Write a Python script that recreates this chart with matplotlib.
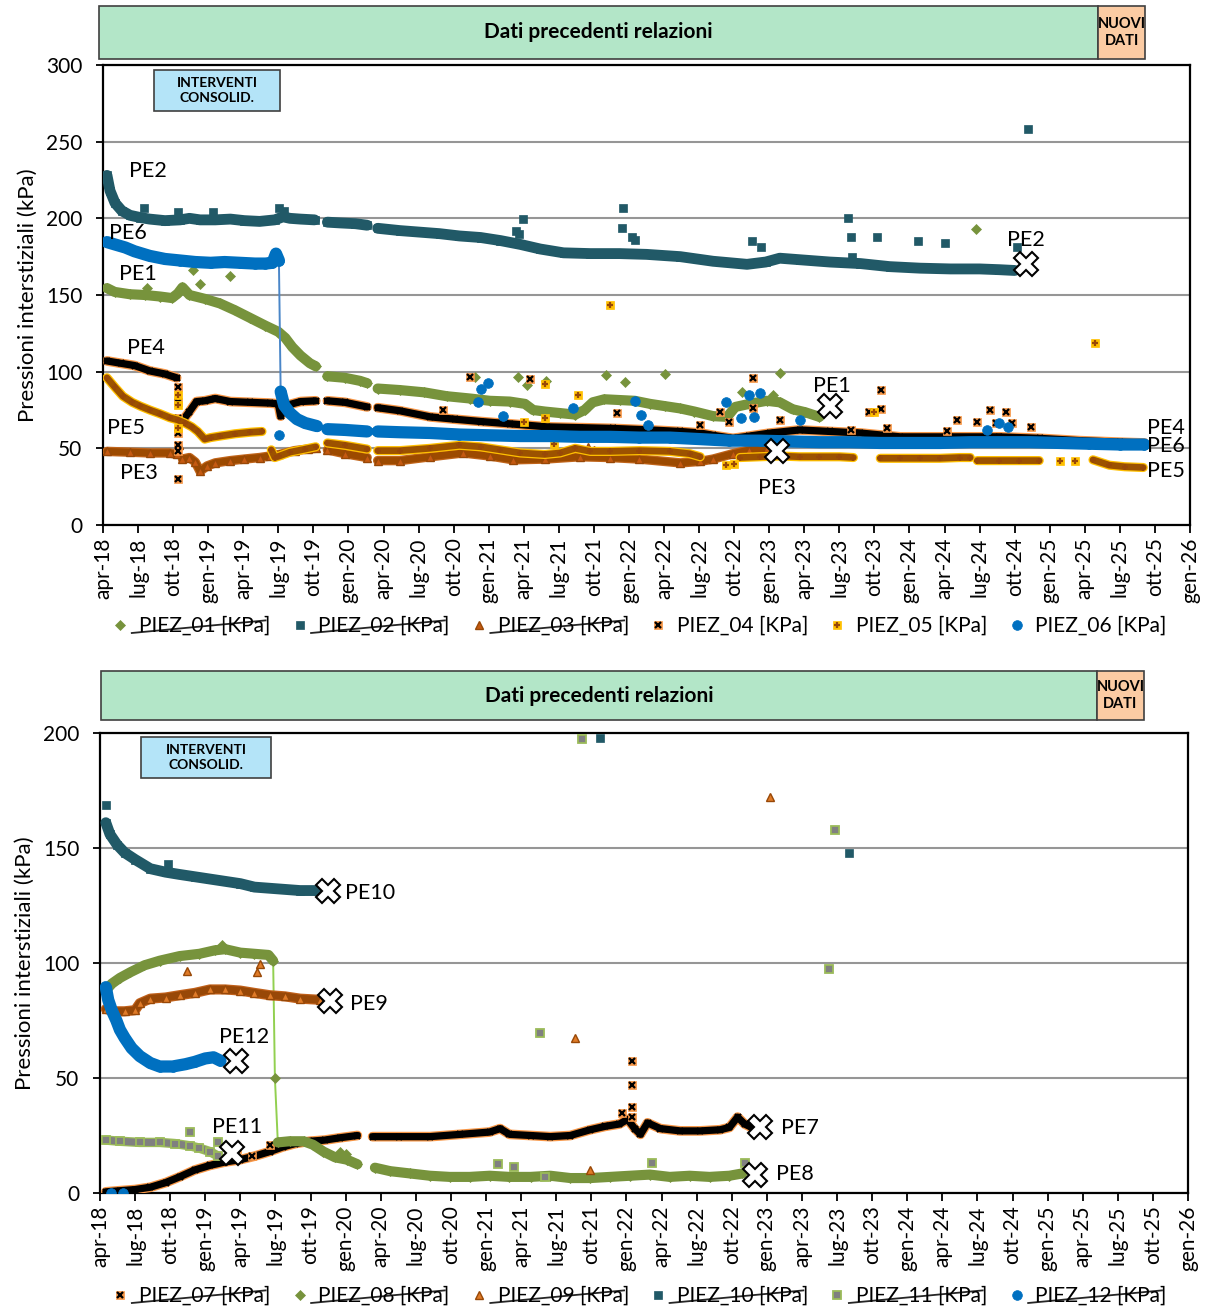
import numpy as np
import matplotlib
matplotlib.use("Agg")
import matplotlib.pyplot as plt
import matplotlib.patheffects as pe
from matplotlib.lines import Line2D
from matplotlib.patches import Rectangle

plt.rcParams['font.family'] = ['Lato', 'DejaVu Sans']

W, H = 1211, 1313

# x axis: months elapsed since 1 apr 2018, one tick every quarter
tick_labels = ['apr-18', 'lug-18', 'ott-18', 'gen-19', 'apr-19', 'lug-19', 'ott-19', 'gen-20',
               'apr-20', 'lug-20', 'ott-20', 'gen-21', 'apr-21', 'lug-21', 'ott-21', 'gen-22',
               'apr-22', 'lug-22', 'ott-22', 'gen-23', 'apr-23', 'lug-23', 'ott-23', 'gen-24',
               'apr-24', 'lug-24', 'ott-24', 'gen-25', 'apr-25', 'lug-25', 'ott-25', 'gen-26']

# ---------------- PIEZ_01 .. PIEZ_06 (None = no readings) ----------------
pe1_x = [0.34, 1.0, 2.3, 3.6, 4.9, 5.9, 6.4, 6.8, 7.4, 8.7, 10.0, 11.3, 12.6, 13.9, 15.0, 15.6, 16.2, 16.9, 17.7, 18.2,
         None, 19.2, 20.7, 22.0, 22.6,
         None, 23.5, 25.4, 27.5, 29.4, 31.4, 33.1, 34.8, 36.1, 36.8, 37.8, 39.1, 40.4, 41.2, 41.9, 42.9, 44.2, 45.5,
         46.8, 48.1, 49.4, 50.6, 52.2, 53.4, 54.1, 55.3, 56.8, 57.9, 59.0, 60.1, 61.3]
pe1_y = [154.5, 152, 150.5, 150, 149, 148, 151, 155, 150, 147.5, 144.5, 140, 135, 130, 126, 122, 116, 110.5, 105.5, 103.5,
         None, 97, 96, 94, 92.5,
         None, 89, 88, 86.5, 84, 82.5, 81, 80.5, 79, 75, 74, 73, 72, 75, 80, 82, 81.5, 81,
         79, 77.5, 76, 74, 71, 70.5, 77, 79, 81, 80, 75.5, 73.5, 70.5]
pe1_out_x = [3.8, 7.7, 10.9, 8.3, 31.8, 35.5, 36.3, 37.9, 43.0, 44.7, 48.1, 57.9, 57.3, 54.7, 74.7]
pe1_out_y = [154.5, 166, 162.5, 157, 96.5, 96.5, 91, 94, 98, 93, 98.5, 99, 85, 87, 193]

pe2_x = [0.34, 0.6, 1.03, 1.6, 2.3, 3.2, 4.0, 5.3, 6.6, 7.4, 8.3, 9.6, 10.9, 12.1, 13.4, 14.7, 15.4, 16.0, 16.9, 18.1,
         None, 19.2, 20.3, 21.6, 22.6,
         None, 23.5, 25.4, 27.1, 28.8, 30.5, 32.3, 34.0, 35.7, 37.4, 39.4, 41.7, 44.2, 46.5, 49.4, 52.2, 55.1, 56.7,
         57.9, 59.6, 62.2, 64.8, 67.3, 69.9, 72.5, 75.0, 76.7, 78.0]
pe2_y = [228, 218, 210, 205, 202, 200.5, 199.5, 198.5, 199, 200, 199, 199, 199.5, 198.5, 198, 199, 201, 200, 199.5, 199,
         None, 197.5, 197, 196.5, 195.5,
         None, 193.5, 192, 191, 190, 188.5, 187.5, 185.5, 183, 180, 177.5, 177, 177, 176.5, 175, 172, 170, 171.5,
         174, 173, 171.5, 170.5, 168.5, 167.5, 167, 167, 166.5, 166]
pe2_out_x = [3.5, 6.4, 9.4, 15.1, 15.5, 35.9, 35.3, 35.6, 44.5, 44.4, 45.3, 45.5, 55.5, 56.3, 63.7, 64.0, 64.1,
             66.2, 69.7, 72.0, 78.2, 79.1]
pe2_out_y = [207, 204, 204, 207, 205, 199.5, 192, 190, 207, 194, 188, 186, 185, 181, 200, 188, 175,
             188, 185, 184, 181, 258]

pe3_x = [0.34, 2.3, 4.0, 5.7, 6.3,
         None, 6.8, 7.4, 7.9, 8.3, 8.9, 9.6, 10.9, 12.1, 13.4, 14.3, 15.1, 16.4, 17.5, 18.2,
         None, 19.2, 20.7, 22.6,
         None, 23.5, 25.4, 28.0, 30.8, 33.1, 35.1, 37.8, 40.8, 43.4, 45.9, 49.4, 51.1, 52.2, 53.9, 55.3, 56.8]
pe3_y = [48, 47.5, 47, 47, 46,
         None, 43, 44, 41, 35, 38.5, 40.5, 42, 43, 44, 45, 46, 48.5, 49.5, 50,
         None, 49, 46.5, 44,
         None, 42, 42, 44.5, 47, 45, 42.5, 43, 44.5, 44, 43, 40.5, 41.5, 43, 46.5, 49, 50]
pe3_out_x = [6.5, 41.5, 42.0]
pe3_out_y = [52, 51, 49]

pe4_x = [0.34, 1.5, 2.7, 4.0, 5.3, 6.3,
         None, 7.0, 7.4, 8.0, 8.7, 9.6, 10.9, 12.6, 14.3, 15.0, 15.2, 15.7, 16.9, 18.2,
         None, 19.2, 20.7, 22.6,
         None, 23.5, 25.4, 28.0, 30.1, 32.3, 34.8, 38.0, 40.8, 43.6, 46.8, 49.4, 51.1, 52.2, 53.9, 55.3, 57.1,
         59.6, 62.2, 64.8, 68.2, 72.5, 76.7, 80.2, 83.6, 87.0, 89.1]
pe4_y = [107, 105.5, 104, 100.5, 98.5, 96,
         None, 70, 74, 80.5, 81, 82.5, 80.5, 80, 79.5, 79, 71, 78, 80.5, 81,
         None, 81, 80, 77,
         None, 76.5, 74.5, 70.5, 69, 67.5, 66, 64, 63.5, 63, 62, 61, 60, 58.5, 56.5, 58, 60,
         62, 61, 60, 57.5, 57.5, 57.5, 56.5, 55, 54, 53.5]
pe4_out_x = [6.4, 6.4, 6.4, 6.4, 6.4, 6.4, 6.4, 31.4, 29.1, 36.5, 44.0, 51.1, 52.8, 53.6, 55.6, 55.6, 57.9,
             64.0, 65.5, 66.6, 66.6, 67.1, 72.2, 73.1, 74.8, 75.9, 76.4, 77.3, 77.8, 79.4]
pe4_out_y = [90, 80, 70, 60, 52, 48, 30, 96.7, 75, 95, 73, 65, 73.7, 67, 96, 76, 68.5,
             62, 73.7, 88, 75.6, 63, 61, 68.5, 67, 75, 66.5, 73.7, 66.5, 64]

pe5_x = [0.34, 1.0, 1.7, 2.5, 3.2, 4.0, 4.9, 5.7, 6.4, 7.0, 7.6, 8.1, 8.7, 9.2, 10.0, 11.3, 12.6, 13.6,
         None, 14.4, 14.7, 15.1, 16.0, 17.3, 18.2,
         None, 19.2, 20.7, 22.6,
         None, 23.5, 25.4, 28.0, 30.5, 32.3, 34.0, 35.7, 37.8, 39.1, 40.4, 41.7, 43.4, 45.9, 48.5, 50.2, 51.1,
         None, 54.5, 56.2, 57.9, 59.6, 61.3, 63.0, 64.2,
         None, 66.5, 68.2, 69.9, 71.6, 73.3, 74.2,
         None, 74.8, 76.7, 78.4, 80.1,
         None, 84.7, 86.1, 87.4, 89.0]
pe5_y = [96, 90, 84, 80, 77.5, 75, 72.5, 70, 68.5, 66.5, 64, 61, 56, 57, 58, 59.5, 60.5, 61,
         None, 49, 44, 45, 47.5, 49.5, 51,
         None, 53.5, 52, 49.5,
         None, 48.5, 48.5, 50, 52, 51, 49, 47, 46, 47, 50, 48, 48, 48.5, 48, 46.5, 44.5,
         None, 44, 44.5, 45, 44.5, 44.5, 44.5, 44,
         None, 43.5, 43.5, 43.5, 43.5, 44, 44,
         None, 42, 42, 42, 42,
         None, 42.5, 39, 38, 37.5]
pe5_out_x = [6.4, 6.4, 6.4, 43.4, 84.9, 37.8, 40.6, 37.8, 53.3, 54.0, 66.0, 81.9, 83.2, 36.0, 38.6]
pe5_out_y = [85, 78, 63, 143.5, 118.5, 92, 85, 70, 39, 40, 74, 42, 42, 67, 53]

pe6_x = [0.34, 1.0, 1.9, 2.7, 4.0, 5.3, 6.6, 7.9, 9.2, 10.4, 11.7, 13.0, 13.9, 14.5, 14.8, 15.05,
         15.2, 15.5, 16.0, 16.6, 17.3, 18.3,
         None, 19.2, 20.7, 22.6,
         None, 23.5, 25.4, 28.0, 30.5, 33.1, 35.7, 38.2, 40.8, 43.4, 45.9, 48.5, 51.1, 53.6, 56.2, 58.8,
         61.3, 63.9, 66.5, 69.0, 71.6, 74.2, 76.7, 79.3, 81.9, 84.4, 87.0, 89.1]
pe6_y = [184.5, 183, 181, 178.5, 175.5, 173.5, 172.5, 171.5, 171, 171.5, 171, 170.5, 170.5, 171, 177, 172.5,
         87, 78, 73, 69, 66.5, 64.5,
         None, 62.5, 62, 61,
         None, 61, 60.5, 60, 59, 58.5, 58, 58, 57.5, 57.5, 57, 57, 56, 55, 55, 54.5,
         54, 54, 53.5, 53.5, 53.5, 54, 54, 54, 53.5, 53, 52.5, 52.5]
pe6_out_x = [15.1, 32.9, 32.3, 32.1, 34.2, 40.2, 46.0, 45.5, 46.6, 55.3, 56.2, 55.7, 59.6, 75.6, 76.7, 77.4, 53.3, 54.6]
pe6_out_y = [58.7, 92.5, 88.5, 80, 71, 76, 72, 81, 65, 84.8, 86, 70.4, 68.5, 62, 66.5, 64, 80, 70]

# ---------------- PIEZ_07 .. PIEZ_12 ----------------
pe7_x = [0.5, 1.7, 3.0, 4.3, 5.6, 6.8, 8.1, 9.4, 10.7, 12.0, 13.2, 14.5, 15.6, 16.7, 17.9, 19.2, 20.5, 22.0,
         None, 23.3, 25.6, 28.2, 30.8, 33.3, 34.2, 35.0, 36.8, 38.5, 40.2, 41.9, 43.2, 44.4, 45.1, 45.7, 46.2,
         46.8, 47.9, 49.6, 51.3, 53.0, 53.8, 54.5, 55.1, 55.7]
pe7_y = [0.5, 1, 1.5, 2.5, 4.5, 7, 10, 12, 13.5, 14.5, 16, 18, 20, 21.5, 22.5, 23, 24, 25,
         None, 24.5, 24.5, 24.5, 25.5, 26.5, 28, 25.5, 25, 24.5, 25, 27.5, 29, 30, 32, 28, 25.5,
         30.5, 28, 27, 27, 27.5, 28.5, 33, 30, 28.5]
pe7_out_x = [45.5, 45.5, 45.5, 45.5, 44.6, 11.7, 14.5, 13.0]
pe7_out_y = [57.4, 47, 37.5, 33, 35, 19, 21, 16]

pe8_x = [0.5, 1.0, 1.7, 2.6, 3.8, 5.1, 6.8, 8.5, 9.8, 10.7, 12.0, 13.2, 14.4, 14.8, 14.95, 15.2,
         16.2, 17.4, 18.2, 19.1, 20.1, 21.1, 22.0,
         None, 23.5, 24.8, 26.5, 28.2, 29.9, 31.6, 33.3, 35.0, 36.8, 38.5, 40.2, 41.9, 43.6, 45.3, 47.0,
         48.7, 50.4, 52.1, 53.8, 54.9]
pe8_y = [88, 91, 93.5, 96, 99, 101, 103, 104, 105.5, 106, 104.5, 104, 103.5, 101, 50, 22,
         22.5, 22.5, 21, 18, 15.5, 14.5, 12.5,
         None, 11, 9.5, 8.5, 7.5, 7, 7, 7.5, 7, 7, 7.5, 6.5, 6.5, 7, 7.5, 8,
         7, 7.5, 7, 7.5, 8.5]
pe8_out_x = [10.4, 20.5, 21.0]
pe8_out_y = [107.8, 18, 17]

pe9_x = [0.5, 1.3, 2.1, 3.0, 3.4, 4.3, 5.6, 6.8, 8.1, 9.4, 10.7, 12.0, 13.2, 14.5, 15.8, 17.1, 18.8]
pe9_y = [80, 79, 79, 79.5, 82.5, 84.5, 85, 86, 87, 88.5, 88.5, 88, 87, 86, 85.5, 84.5, 84]
pe9_out_x = [7.4, 13.7, 13.4, 57.3, 40.6, 41.9]
pe9_out_y = [96.5, 99.6, 96, 172, 67.4, 10]

pe10_x = [0.5, 0.85, 1.45, 2.1, 3.0, 4.3, 5.6, 6.8, 8.1, 9.4, 10.7, 12.0, 13.2, 14.5, 15.8, 17.1, 18.6]
pe10_y = [161, 156, 151.5, 148, 145, 141, 139.5, 138.5, 137.5, 136.5, 135.5, 134.5, 133, 132.5, 132, 131.5, 131.5]
pe10_out_x = [0.5, 5.8, 42.7, 64.0]
pe10_out_y = [168.5, 143, 198, 148]

pe11_x = [0.5, 1.7, 3.4, 5.1, 6.4, 7.7, 8.5, 9.4, 10.1]
pe11_y = [23, 22.5, 22, 22, 21.5, 20.5, 19.5, 18, 16]
pe11_out_x = [7.7, 10.1, 41.2, 37.6, 62.3, 62.8, 34.0, 35.4, 47.2, 55.1, 38.0]
pe11_out_y = [26.5, 22, 197.5, 69.6, 97.4, 157.8, 12.6, 11.3, 13, 13, 7]

pe12_x = [0.5, 0.7, 1.0, 1.4, 1.7, 2.1, 2.7, 3.4, 4.3, 5.1, 6.2, 7.3, 8.1, 9.0, 9.7, 10.3]
pe12_y = [89.5, 84, 79.5, 75, 71, 67.5, 63, 59.5, 56.5, 55, 55, 56, 57, 58.5, 59, 57.5]
pe12_out_x = [0.9, 2.0]
pe12_out_y = [0, 0]

# end-of-record crosses and station labels
top_end_x = [62.2, 79.0, 57.7]
top_end_y = [77.6, 170, 48]
top_lab = ['PE2', 'PE6', 'PE1', 'PE4', 'PE5', 'PE3', 'PE1', 'PE2', 'PE3', 'PE4', 'PE6', 'PE5']
top_lab_x = [3.85, 2.1, 3.0, 3.7, 2.0, 3.1, 62.4, 79.0, 57.7, 90.9, 90.9, 90.9]
top_lab_y = [231, 190.5, 164, 115.5, 63, 34, 90.6, 186, 24, 63.3, 51.5, 35.2]

bot_end_x = [56.4, 56.0, 19.7, 19.5, 11.3, 11.6]
bot_end_y = [28.7, 7.8, 83.5, 131.3, 17.4, 57.4]
bot_lab = ['PE7', 'PE8', 'PE9', 'PE10', 'PE11', 'PE12']
bot_lab_x = [59.8, 59.4, 23.0, 23.1, 11.7, 12.3]
bot_lab_y = [28.3, 8.3, 82.2, 130.4, 28.7, 67.8]

GREEN = '#77933c'
TEAL = '#215967'
ORANGE = '#f79646'
GOLD = '#ffc000'
BLUE = '#0070c0'

# marker layers (drawn on top of each other) and band colours per logger
STYLES = {
    'PIEZ_01': dict(face=GREEN, edge=GREEN, band=5.5,
                    layers=[dict(marker='D', ms=5, mfc=GREEN, mec=GREEN, mew=0.5)]),
    'PIEZ_02': dict(face=TEAL, edge=TEAL, band=6.0,
                    layers=[dict(marker='s', ms=5.5, mfc=TEAL, mec=TEAL, mew=0.5)]),
    'PIEZ_03': dict(face='#9c4a00', edge='#c0641a', band=5.0,
                    layers=[dict(marker='^', ms=6, mfc='#c55a11', mec='#984807', mew=1)]),
    'PIEZ_04': dict(face='black', edge=ORANGE, band=5.2,
                    layers=[dict(marker='s', ms=6, mfc=ORANGE, mec=ORANGE, mew=0.5),
                            dict(marker='x', ms=4.5, mfc='black', mec='black', mew=1.6)]),
    'PIEZ_05': dict(face='#9c5200', edge=GOLD, band=4.8,
                    layers=[dict(marker='s', ms=6, mfc=GOLD, mec=GOLD, mew=0.5),
                            dict(marker='+', ms=5, mfc='#984807', mec='#984807', mew=1.6)]),
    'PIEZ_06': dict(face=BLUE, edge=BLUE, band=7.0,
                    layers=[dict(marker='o', ms=7, mfc=BLUE, mec=BLUE, mew=0.5)]),
    'PIEZ_07': dict(face='black', edge=ORANGE, band=5.2,
                    layers=[dict(marker='s', ms=6, mfc=ORANGE, mec=ORANGE, mew=0.5),
                            dict(marker='x', ms=4.5, mfc='black', mec='black', mew=1.6)]),
    'PIEZ_08': dict(face=GREEN, edge=GREEN, band=5.5,
                    layers=[dict(marker='D', ms=5, mfc=GREEN, mec=GREEN, mew=0.5)]),
    'PIEZ_09': dict(face='#984807', edge='#c0601a', band=5.5,
                    layers=[dict(marker='^', ms=6, mfc='#e07b28', mec='#984807', mew=1)]),
    'PIEZ_10': dict(face=TEAL, edge=TEAL, band=6.0,
                    layers=[dict(marker='s', ms=5.5, mfc=TEAL, mec=TEAL, mew=0.5)]),
    'PIEZ_11': dict(face='#808080', edge='#9bbb59', band=5.0,
                    layers=[dict(marker='s', ms=6, mfc='#808080', mec='#9bbb59', mew=1.3)]),
    'PIEZ_12': dict(face=BLUE, edge=BLUE, band=7.0,
                    layers=[dict(marker='o', ms=7, mfc=BLUE, mec=BLUE, mew=0.5)]),
}


def arr(v):
    return np.array([np.nan if a is None else a for a in v], dtype=float)


def draw_series(ax, name, xs, ys, ox, oy, z, link=None):
    st = STYLES[name]
    x, y = arr(xs), arr(ys)
    # split the band wherever the reading jumps by more than 20 kPa
    bx, by = [x[0]], [y[0]]
    for i in range(1, len(x)):
        if abs(y[i] - y[i - 1]) > 20:
            bx.append(np.nan)
            by.append(np.nan)
        bx.append(x[i])
        by.append(y[i])
    if link:
        ax.plot(x, y, color=link, lw=1.4, zorder=z)
    ax.plot(bx, by, color=st['face'], lw=st['band'], solid_capstyle='round',
            solid_joinstyle='round', zorder=z,
            path_effects=[pe.Stroke(linewidth=st['band'] + 1.8, foreground=st['edge']), pe.Normal()])
    # on the dense band only the symbol shows, isolated readings get the full marker
    ax.plot(x, y, ls='none', zorder=z + 0.1, **st['layers'][-1])
    for lay in st['layers']:
        ax.plot(ox, oy, ls='none', zorder=z + 0.2, **lay)


def handle(name):
    return tuple(Line2D([], [], ls='none', **lay) for lay in STYLES[name]['layers'])


def style_axes(ax, ymax):
    ax.set_xlim(0, 93)
    ax.set_ylim(0, ymax)
    ax.set_xticks(np.arange(0, 94, 3))
    ax.set_xticklabels(tick_labels, rotation=90, fontsize=15)
    ax.set_yticks(np.arange(0, ymax + 1, 50))
    ax.tick_params(axis='y', labelsize=15, length=5, width=1.3, pad=10)
    ax.tick_params(axis='x', length=6, width=1.3, pad=3)
    ax.yaxis.grid(True, color='#969696', lw=1.5)
    ax.set_axisbelow(True)
    for s in ax.spines.values():
        s.set_linewidth(1.6)
        s.set_color('black')
    ax.set_ylabel('Pressioni interstiziali (kPa)', fontsize=16, labelpad=6)


def fig_rect(fig, x0, y0, x1, y1, color, **kw):
    fig.patches.append(Rectangle((x0 / W, 1 - y1 / H), (x1 - x0) / W, (y1 - y0) / H,
                                 transform=fig.transFigure, facecolor=color, edgecolor='#404040',
                                 lw=1.2, **kw))


def banner(fig, x0, xs, x1, y0, y1, bx0, bx1, by0, by1):
    fig_rect(fig, x0, y0, xs, y1, '#b3e6c8')
    fig_rect(fig, xs, y0, x1, y1, '#fbcba3')
    fig.text((x0 + xs) / 2 / W, 1 - (y0 + y1) / 2 / H, 'Dati precedenti relazioni',
             ha='center', va='center', fontsize=15, fontweight='bold')
    fig.text((xs + x1) / 2 / W, 1 - (y0 + y1) / 2 / H, 'NUOVI\nDATI', ha='center', va='center',
             fontsize=10.5, fontweight='bold', linespacing=1.3)
    fig_rect(fig, bx0, by0, bx1, by1, '#b4e4f8')
    fig.text((bx0 + bx1) / 2 / W, 1 - (by0 + by1) / 2 / H, 'INTERVENTI\nCONSOLID.',
             ha='center', va='center', fontsize=10, fontweight='bold', linespacing=1.3)


fig = plt.figure(figsize=(W / 100, H / 100), dpi=100)
ax1 = fig.add_axes([103 / W, 1 - 525 / H, (1190 - 103) / W, (525 - 65) / H])
ax2 = fig.add_axes([100 / W, 1 - 1193 / H, (1188 - 100) / W, (1193 - 733) / H])

# upper chart
draw_series(ax1, 'PIEZ_01', pe1_x, pe1_y, pe1_out_x, pe1_out_y, 3)
draw_series(ax1, 'PIEZ_02', pe2_x, pe2_y, pe2_out_x, pe2_out_y, 4)
draw_series(ax1, 'PIEZ_03', pe3_x, pe3_y, pe3_out_x, pe3_out_y, 5)
draw_series(ax1, 'PIEZ_04', pe4_x, pe4_y, pe4_out_x, pe4_out_y, 6)
draw_series(ax1, 'PIEZ_05', pe5_x, pe5_y, pe5_out_x, pe5_out_y, 7)
draw_series(ax1, 'PIEZ_06', pe6_x, pe6_y, pe6_out_x, pe6_out_y, 8, link='#4a86c8')
ax1.plot(top_end_x, top_end_y, ls='none', marker='X', ms=17, mfc='white', mec='black', mew=1.5, zorder=10)
for t, x, y in zip(top_lab, top_lab_x, top_lab_y):
    ax1.text(x, y, t, ha='center', va='center', fontsize=15.5, zorder=11)
style_axes(ax1, 300)

# lower chart
draw_series(ax2, 'PIEZ_07', pe7_x, pe7_y, pe7_out_x, pe7_out_y, 3)
draw_series(ax2, 'PIEZ_08', pe8_x, pe8_y, pe8_out_x, pe8_out_y, 4, link='#92d050')
draw_series(ax2, 'PIEZ_09', pe9_x, pe9_y, pe9_out_x, pe9_out_y, 5)
draw_series(ax2, 'PIEZ_10', pe10_x, pe10_y, pe10_out_x, pe10_out_y, 6)
draw_series(ax2, 'PIEZ_11', pe11_x, pe11_y, pe11_out_x, pe11_out_y, 7)
draw_series(ax2, 'PIEZ_12', pe12_x, pe12_y, pe12_out_x, pe12_out_y, 8)
ax2.plot(bot_end_x, bot_end_y, ls='none', marker='X', ms=17, mfc='white', mec='black', mew=1.5, zorder=10)
for t, x, y in zip(bot_lab, bot_lab_x, bot_lab_y):
    ax2.text(x, y, t, ha='center', va='center', fontsize=15.5, zorder=11)
style_axes(ax2, 200)

banner(fig, 99, 1098, 1145, 6, 59, 154, 280, 70, 111)
banner(fig, 101, 1097, 1144, 671, 720, 141, 271, 737, 778)

top_names = ['PIEZ_01', 'PIEZ_02', 'PIEZ_03', 'PIEZ_04', 'PIEZ_05', 'PIEZ_06']
bot_names = ['PIEZ_07', 'PIEZ_08', 'PIEZ_09', 'PIEZ_10', 'PIEZ_11', 'PIEZ_12']
leg_kw = dict(ncol=6, frameon=False, fontsize=15, handlelength=0.8, handletextpad=0.5,
              columnspacing=1.0, loc='center')
leg1 = fig.legend([handle(n) for n in top_names], [n + ' [KPa]' for n in top_names],
                  bbox_to_anchor=(0.528, 1 - 626 / H), **leg_kw)
leg2 = fig.legend([handle(n) for n in bot_names], [n + ' [KPa]' for n in bot_names],
                  bbox_to_anchor=(0.528, 1 - 1296 / H), **leg_kw)

# discontinued loggers: slanted strike through the legend entry
fig.canvas.draw()
inv = fig.transFigure.inverted()
struck = [leg1.get_texts()[i] for i in range(3)] + list(leg2.get_texts())
for txt in struck:
    bb = txt.get_window_extent().transformed(inv)
    fig.add_artist(Line2D([bb.x0 - 0.006, bb.x1 - 0.004],
                          [bb.y0 + 0.15 * bb.height, bb.y0 + 0.78 * bb.height],
                          transform=fig.transFigure, color='#262626', lw=1.3))

fig.savefig('out.png', dpi=100)
